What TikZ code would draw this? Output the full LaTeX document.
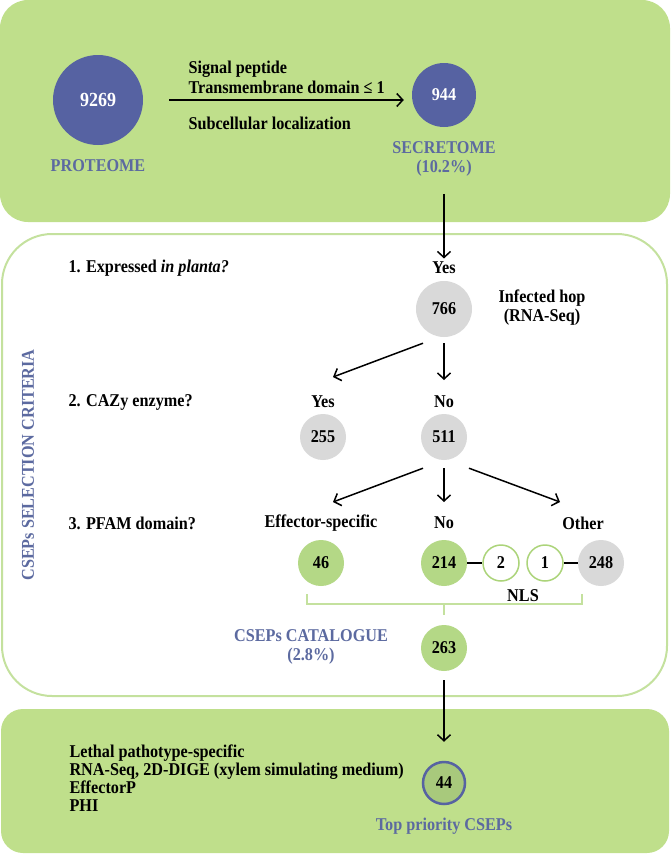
\documentclass[tikz,border=0pt]{standalone}
\usepackage{fontspec}
\setmainfont[FakeStretch=0.9]{Liberation Serif}
\usetikzlibrary{positioning,arrows.meta}

\definecolor{panelgreen}{RGB}{191,223,139}
\definecolor{framegreen}{RGB}{196,225,158}
\definecolor{numgreen}{RGB}{180,216,134}
\definecolor{nlsgreen}{RGB}{172,212,122}
\definecolor{topgreen}{RGB}{168,201,124}
\definecolor{numgray}{RGB}{217,217,217}
\definecolor{protblue}{RGB}{86,98,162}
\definecolor{capblue}{RGB}{92,106,160}

\begin{document}
\begin{tikzpicture}[x=1pt,y=-1pt,
      every node/.style={font=\bfseries\fontsize{18}{19}\selectfont},
      panel/.style={fill=panelgreen,rounded corners=28pt},
      frame/.style={draw=framegreen,line width=2pt,fill=white,rounded corners=50pt},
      bluenum/.style={circle,fill=protblue,text=white,inner sep=0pt},
      graynum/.style={circle,fill=numgray,inner sep=0pt,minimum size=46pt},
      greennum/.style={circle,fill=numgreen,inner sep=0pt,minimum size=46pt},
      nlsnum/.style={circle,draw=nlsgreen,line width=1.5pt,fill=white,inner sep=0pt,minimum size=36pt},
      caption/.style={text=capblue,align=center},
      question/.style={anchor=west},
      flow/.style={-{Straight Barb[length=6pt,width=13pt]},line width=1.5pt},
      link/.style={line width=2pt},
      brace/.style={draw=framegreen,line width=2pt}]
  \useasboundingbox (0,0) rectangle (670,854);

  % panels
  \path[panel] (0,0) rectangle (670,222);
  \path[frame] (2,234) rectangle (667,696);
  \path[panel,rounded corners=22pt] (1,709) rectangle (669,853);

  % secretome prediction
  \node[bluenum,minimum size=90pt,font=\bfseries\fontsize{20}{22}\selectfont] (prot) at (98,100) {9269};
  \node[caption] (protlbl) at (98,166) {PROTEOME};
  \node[bluenum,minimum size=64pt] (secr) at (444,95) {944};
  \node[caption] (secrlbl) at (444,159) {SECRETOME\\(10.2\%)};
  \draw[flow,shorten <=26pt,shorten >=8pt] (prot.east) -- (secr.west |- prot.east);
  \node[anchor=west,align=left,font=\bfseries\fontsize{18}{20}\selectfont] (sigp) at (185,77) {Signal peptide\\Transmembrane domain ≤ 1};
  \node[anchor=west] (subloc) at (185,123) {Subcellular localization};

  % CSEPs selection criteria
  \node[caption,rotate=90] (crit) at (28,465) {CSEPs SELECTION CRITERIA};
  \node[question] (q1) at (65,268) {1. Expressed \textit{in planta?}};
  \node[question] (q2) at (65,402) {2. CAZy enzyme?};
  \node[question] (q3) at (65,523) {3. PFAM domain?};

  \node (yes1) at (444,268) {Yes};
  \node[graynum,minimum size=56pt] (c766) at (444,309) {766};
  \node[align=center] (host) at (542,308) {Infected hop\\(RNA-Seq)};
  \draw[flow,shorten <=14pt] (secrlbl.south) -- (yes1.north);

  \node (yes2) at (323,402) {Yes};
  \node (no2) at (444,402) {No};
  \node[graynum] (c255) at (323,437) {255};
  \node[graynum] (c511) at (444,437) {511};
  \draw[flow] ([shift={(-21,6)}]c766.south) -- ([shift={(10,-25)}]yes2.center);
  \draw[flow] ([shift={(0,6)}]c766.south) -- ([shift={(0,-22)}]no2.center);

  \node (eff) at (321,523) {Effector-specific};
  \node (no3) at (444,523) {No};
  \node (other) at (583,523) {Other};
  \draw[flow] ([shift={(-21,8)}]c511.south) -- ([shift={(12,-21)}]eff.center);
  \draw[flow] ([shift={(0,8)}]c511.south) -- ([shift={(0,-21)}]no3.center);
  \draw[flow] ([shift={(25,8)}]c511.south) -- ([shift={(-23,-21)}]other.center);

  \node[greennum] (c46) at (321,563) {46};
  \node[greennum] (c214) at (444,563) {214};
  \node[nlsnum] (n2) at (501,563) {2};
  \node[nlsnum] (n1) at (545,563) {1};
  \node[graynum] (c248) at (601,563) {248};
  \draw[link] (c214) -- (n2);
  \draw[link] (n1) -- (c248);
  \node (nls) at (523,596) {NLS};

  \draw[brace] (307,594) |- (582,604) -- (582,594);
  \draw[brace] (444,604) -- (444,615);
  \node[caption] (catlbl) at (311,647) {CSEPs CATALOGUE\\(2.8\%)};
  \node[greennum] (c263) at (444,648) {263};

  % top priority
  \node[circle,draw=protblue,line width=2.5pt,fill=topgreen,inner sep=0pt,minimum size=42pt] (c44) at (444,783) {44};
  \draw[flow] ([shift={(0,9)}]c263.south) -- ([shift={(0,-19)}]c44.north);
  \node[anchor=west,align=left,font=\bfseries\fontsize{18}{18}\selectfont] (filters) at (66,778) {Lethal pathotype-specific\\RNA-Seq, 2D-DIGE (xylem simulating medium)\\EffectorP\\PHI};
  \node[caption] (toplbl) at (444,826) {Top priority CSEPs};
\end{tikzpicture}
\end{document}
